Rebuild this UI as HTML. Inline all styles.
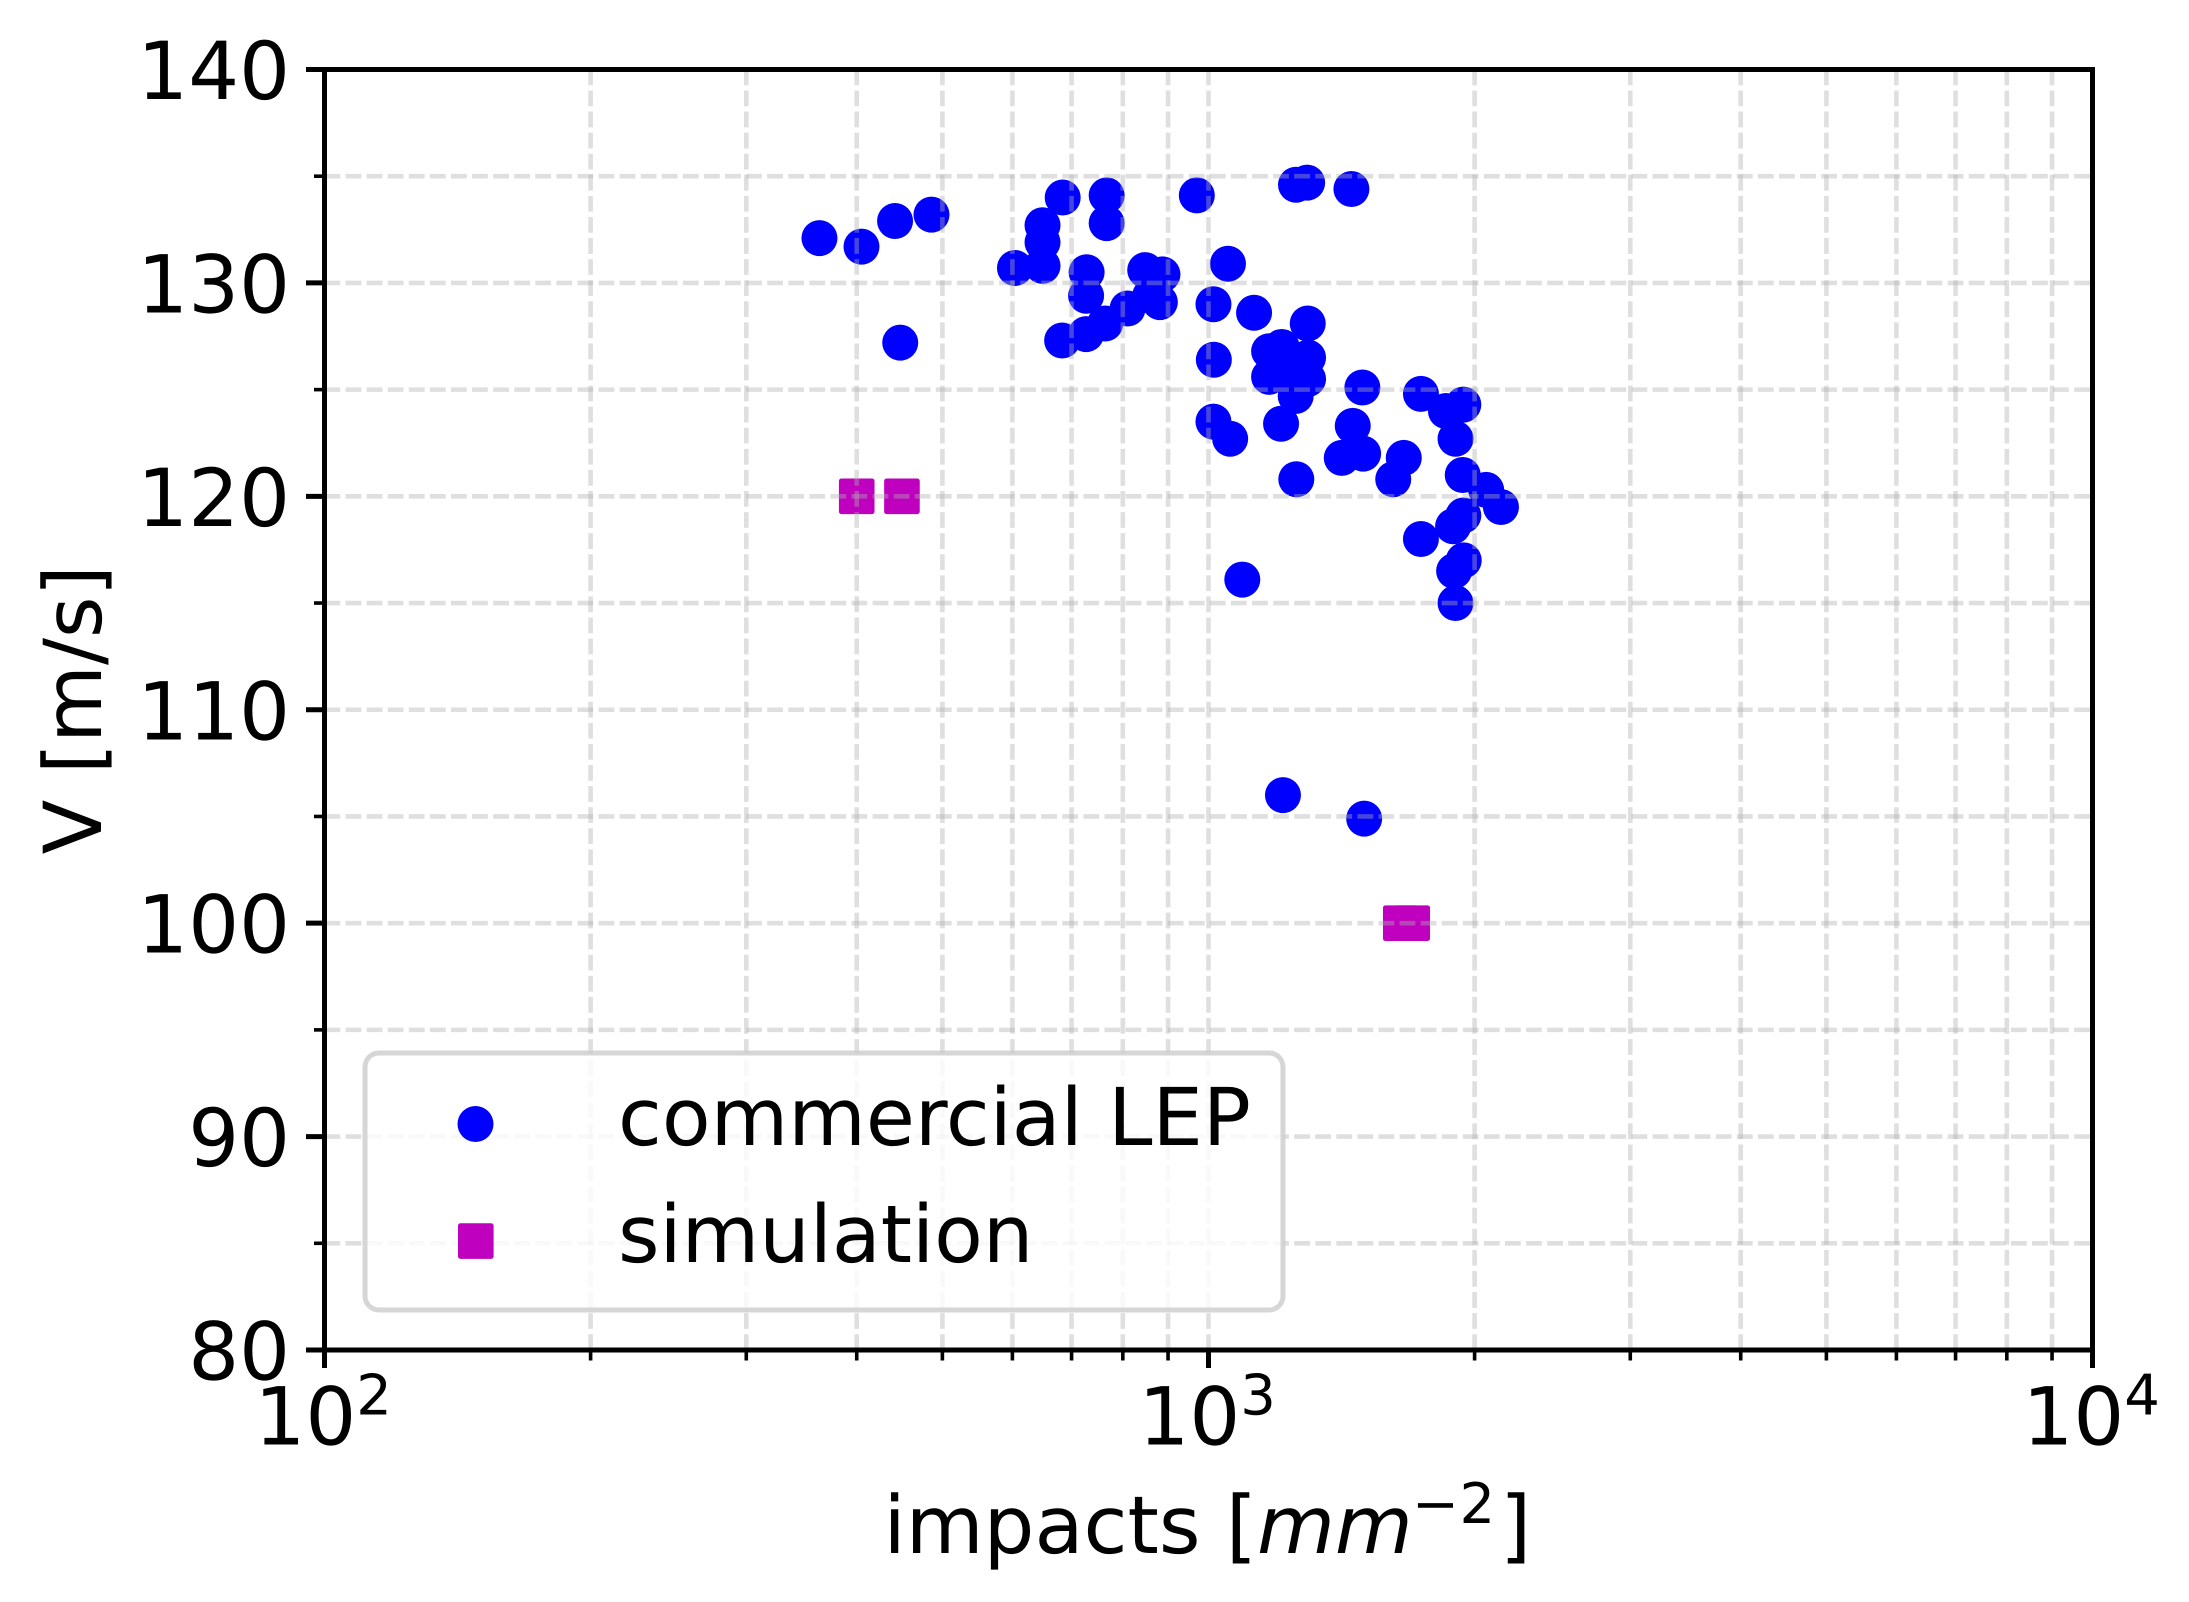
<!DOCTYPE html>
<html>
<head>
<meta charset="utf-8">
<title>Impacts vs velocity</title>
<style>
html,body{margin:0;padding:0;background:#fff;}
svg{display:block;}
text{font-family:"DejaVu Sans","Liberation Sans",sans-serif;fill:#000;text-rendering:geometricPrecision;}
</style>
</head>
<body>
<svg id="chart" xmlns="http://www.w3.org/2000/svg" width="2189" height="1602" viewBox="0 0 2189 1602">
  <rect x="0" y="0" width="2189" height="1602" fill="#fff"/>
  <g id="series-layer"></g>
  <g id="grid-layer"></g>
  <g id="axes-layer"></g>
  <text y="1553" font-size="80"><tspan x="883.5">impacts [</tspan><tspan x="1257" font-style="italic">mm</tspan><tspan x="1412" font-size="56" y="1523">−</tspan><tspan x="1459.5" font-size="56" y="1523">2</tspan><tspan x="1500" y="1553">]</tspan></text>
  <text font-size="80" text-anchor="middle" transform="translate(101 709.75) rotate(-90)">V [m/s]</text>
  <g>
    <rect x="365" y="1053" width="918" height="257" rx="14" ry="14" fill="#fff" fill-opacity="0.8" stroke="#ccc" stroke-opacity="0.8" stroke-width="5"/>
    <g>
      <circle cx="475.5" cy="1124" r="18" fill="#0000ff"/>
      <text x="618" y="1145" font-size="79.7">commercial LEP</text>
    </g>
    <g>
      <rect x="458" y="1223.3" width="35.6" height="35.6" rx="2.5" ry="2.5" fill="#bf00bf"/>
      <text x="618" y="1262" font-size="79.7">simulation</text>
    </g>
  </g>
</svg>
<script>
const lepImpacts = [363,405,442,486,448,684,767,767,970,1256,1293,1451,649,649,604,649,728,727,848,887,881,859,810,764,727,683,1052,1013,1126,1295,1014,1171,1210,1296,1171,1296,1255,1230,1259,1013,1058,1208,1493,1739,1856,1942,1903,1456,1415,1496,1663,1618,1257,1939,2061,2142,1942,1891,1739,1944,1896,1903,1092,1214,1500];
const lepVelocity = [132.1,131.7,132.9,133.2,127.2,134.0,134.1,132.8,134.1,134.6,134.7,134.4,132.7,131.9,130.7,130.8,130.5,129.4,130.6,130.4,129.1,129.4,128.8,128.1,127.6,127.3,130.9,129.0,128.6,128.1,126.4,126.8,127.0,126.5,125.6,125.5,124.7,126.2,126.1,123.5,122.7,123.4,125.1,124.8,124.0,124.3,122.7,123.3,121.8,122.0,121.8,120.8,120.8,121.0,120.3,119.5,119.1,118.6,118.0,117.0,116.5,115.0,116.1,106.0,104.9];
const simImpacts = [400,450,1650,1700];
const simVelocity = [120,120,100,100];
const yMajorTicks = [80,90,100,110,120,130,140];
const yMinorTicks = [85,95,105,115,125,135];
const xMajorExponents = [2,3,4];
const xMinorTicks = [200,300,400,500,600,700,800,900,2000,3000,4000,5000,6000,7000,8000,9000];
const xDomain = [100,10000];
const yDomain = [80,140];

const plotLeft = 324.5, plotRight = 2092.5, plotTop = 69.5, plotBottom = 1350;
const SVGNS = 'http://www.w3.org/2000/svg';

function xScale(v){
  const a = Math.log10(xDomain[0]), b = Math.log10(xDomain[1]);
  return plotLeft + (Math.log10(v) - a) / (b - a) * (plotRight - plotLeft);
}
function yScale(v){
  return plotBottom - (v - yDomain[0]) / (yDomain[1] - yDomain[0]) * (plotBottom - plotTop);
}
function make(tag, parent, attrs){
  const el = document.createElementNS(SVGNS, tag);
  for (const k in attrs) el.setAttribute(k, attrs[k]);
  parent.appendChild(el);
  return el;
}

const seriesLayer = document.getElementById('series-layer');
const gridLayer = document.getElementById('grid-layer');
const axesLayer = document.getElementById('axes-layer');

lepImpacts.forEach(function(v, i){
  const el = make('circle', seriesLayer, {cx: xScale(v), cy: yScale(lepVelocity[i]), r: 18, fill: '#0000ff'});
  
  
});
simImpacts.forEach(function(v, i){
  const el = make('rect', seriesLayer, {x: xScale(v) - 17.8, y: yScale(simVelocity[i]) - 17.8, width: 35.6, height: 35.6, rx: 2.5, ry: 2.5, fill: '#bf00bf'});
  
  
});

function gridH(v){
  const el = make('line', gridLayer, {x1: plotLeft, x2: plotRight, y1: yScale(v), y2: yScale(v), stroke: '#b0b0b0', 'stroke-opacity': 0.4, 'stroke-width': 4.6, 'stroke-dasharray': '15.8 5.28'});
  
  
}
function gridV(v){
  const el = make('line', gridLayer, {x1: xScale(v), x2: xScale(v), y1: plotBottom, y2: plotTop, stroke: '#b0b0b0', 'stroke-opacity': 0.4, 'stroke-width': 4.6, 'stroke-dasharray': '15.8 5.28'});
  
  
}
yMajorTicks.concat(yMinorTicks).forEach(gridH);
xMinorTicks.concat(xMajorExponents.map(function(e){ return Math.pow(10, e); })).forEach(gridV);

yMinorTicks.forEach(function(v){
  const el = make('line', axesLayer, {x1: plotLeft - 10.5, x2: plotLeft, y1: yScale(v), y2: yScale(v), stroke: '#000', 'stroke-width': 3.6});
  
  
});
yMajorTicks.forEach(function(v){
  const el = make('line', axesLayer, {x1: plotLeft - 18.5, x2: plotLeft, y1: yScale(v), y2: yScale(v), stroke: '#000', 'stroke-width': 5});
  
  
  const t = make('text', axesLayer, {x: 290, y: yScale(v) + 29.5, 'font-size': 80, 'text-anchor': 'end'});
  t.textContent = String(v);
  
  
});
xMinorTicks.forEach(function(v){
  const el = make('line', axesLayer, {x1: xScale(v), x2: xScale(v), y1: plotBottom, y2: plotBottom + 10.5, stroke: '#000', 'stroke-width': 3.6});
  
  
});
xMajorExponents.forEach(function(e){
  const px = xScale(Math.pow(10, e));
  const el = make('line', axesLayer, {x1: px, x2: px, y1: plotBottom, y2: plotBottom + 18, stroke: '#000', 'stroke-width': 5});
  
  
  const t = make('text', axesLayer, {x: px - 70, y: 1444.5, 'font-size': 80});
  
  
  const base = make('tspan', t, {});
  base.textContent = '10';
  const sup = make('tspan', t, {'font-size': 56, dy: -30});
  sup.textContent = String(e);
});

[['spine-left', plotLeft, plotTop - 2.5, plotLeft, plotBottom + 2.5],
 ['spine-right', plotRight, plotTop - 2.5, plotRight, plotBottom + 2.5],
 ['spine-top', plotLeft - 2.5, plotTop, plotRight + 2.5, plotTop],
 ['spine-bottom', plotLeft - 2.5, plotBottom, plotRight + 2.5, plotBottom]].forEach(function(s){
  const el = make('line', axesLayer, {x1: s[1], y1: s[2], x2: s[3], y2: s[4], stroke: '#000', 'stroke-width': 5});
  
  
});
</script>
</body>
</html>
